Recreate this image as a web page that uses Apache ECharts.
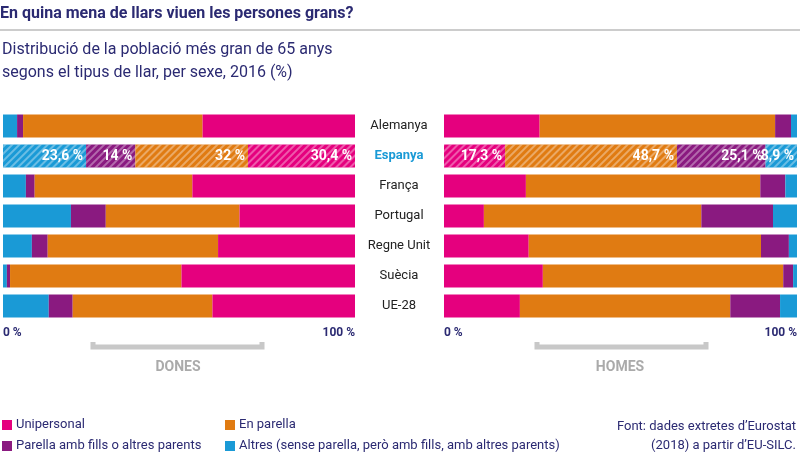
<!DOCTYPE html>
<html><head><meta charset="utf-8">
<script src="https://cdn.jsdelivr.net/npm/echarts@6/dist/echarts.min.js"></script>
<style>body{margin:0}#c{width:800px;height:467px}</style></head>
<body><div id="c"></div>
<script>
const categories=['Alemanya','Espanya','França','Portugal','Regne Unit','Suècia','UE-28'];
const seriesNames=['Unipersonal','En parella','Parella amb fills o altres parents','Altres (sense parella, però amb fills, amb altres parents)'];
// Women (left), order: Altres, Parella amb fills, En parella, Unipersonal
const womenAltres=[4,23.6,6.5,19.3,8.2,1.1,13];
const womenFills=[1.7,14,2.5,9.9,4.5,0.9,6.8];
const womenParella=[51,32,44.8,38,48.4,48.7,39.7];
const womenUni=[43.3,30.4,46.2,32.8,38.9,49.3,40.5];
// Men (right), order: Unipersonal, En parella, Parella amb fills, Altres
const menUni=[27.1,17.3,23.2,11.3,24,28,21.5];
const menParella=[66.7,48.7,66.4,61.6,65.8,68.1,59.6];
const menFills=[4.5,25.1,7.1,20.3,7.9,2.8,14.1];
const menAltres=[1.7,8.9,3.3,6.8,2.3,1.1,4.8];
const axisTicks=[0,100];

const col={uni:'#e5007e',par:'#e07b12',fil:'#8a1a80',alt:'#1a9ad6'};
const navy='#2b2a72';
const hl=1;
function mk(name,data,color,xi){
  return {type:'bar',stack:'s'+xi,xAxisIndex:xi,yAxisIndex:xi,barWidth:23,name:name,
    itemStyle:{color:color},
    data:data.map((v,i)=>i===hl?{value:v,itemStyle:{color:color,decal:{symbol:'rect',symbolSize:1,dashArrayX:[1,0],dashArrayY:[2,3],rotation:-Math.PI/4,color:'rgba(255,255,255,0.35)'}},
      label:{show:true,position:'insideRight',distance:3,color:'#fff',fontWeight:'bold',fontSize:14,fontFamily:'Roboto',formatter:p=>String(p.value).replace('.',',')+' %'}}:v)};
}
const xa=(i)=>({gridIndex:i,min:0,max:100,interval:100,axisLine:{show:false},axisTick:{show:false},splitLine:{show:false},
  axisLabel:{color:navy,fontSize:12,fontWeight:'bold',fontFamily:'Roboto',formatter:v=>axisTicks.includes(v)?v+' %':'',alignMinLabel:'left',alignMaxLabel:'right',margin:6}});
const ya=i=>({gridIndex:i,type:'category',data:categories,inverse:true,axisLine:{show:false},axisTick:{show:false},axisLabel:{show:false}});
const chart=echarts.init(document.getElementById('c'));
const g=[];
const leg=[[col.uni,seriesNames[0],2,425],[col.par,seriesNames[1],225,425],[col.fil,seriesNames[2],2,446],[col.alt,seriesNames[3],225,446]];
leg.forEach(l=>{g.push({type:'rect',shape:{x:l[2],y:l[3]-5,width:10,height:10},style:{fill:l[0]}});
  g.push({type:'text',x:l[2]+14,y:l[3],style:{text:l[1],fill:navy,font:'13px Roboto',textVerticalAlign:'middle'}});});
categories.forEach((c,i)=>g.push({type:'text',x:399,y:126+i*30,style:{text:c,fill:i===hl?'#1a9ad6':'#222',font:(i===hl?'bold ':'')+'13px Roboto',textAlign:'center',textVerticalAlign:'middle'}}));
[[93,262,'DONES',178],[537,706,'HOMES',620]].forEach(b=>{
  g.push({type:'polyline',shape:{points:[[b[0],342],[b[0],347],[b[1],347],[b[1],342]]},style:{stroke:'#c8c8c8',lineWidth:5,fill:null}});
  g.push({type:'text',x:b[3],y:367,style:{text:b[2],fill:'#aaaaaa',font:'bold 14px Roboto',textAlign:'center',textVerticalAlign:'middle'}});
});
g.push({type:'text',x:0,y:14,style:{text:'En quina mena de llars viuen les persones grans?',fill:navy,font:'bold 16px Roboto',textVerticalAlign:'middle'}});
g.push({type:'line',shape:{x1:0,y1:30,x2:800,y2:30},style:{stroke:'#999',lineWidth:1}});
g.push({type:'text',x:2,y:50,style:{text:'Distribució de la població més gran de 65 anys',fill:navy,font:'16px Roboto',textVerticalAlign:'middle'}});
g.push({type:'text',x:2,y:73,style:{text:'segons el tipus de llar, per sexe, 2016 (%)',fill:navy,font:'16px Roboto',textVerticalAlign:'middle'}});
g.push({type:'text',x:796,y:427,style:{text:'Font: dades extretes d’Eurostat',fill:navy,font:'13px Roboto',textAlign:'right',textVerticalAlign:'middle'}});
g.push({type:'text',x:796,y:446,style:{text:'(2018) a partir d’EU-SILC.',fill:navy,font:'13px Roboto',textAlign:'right',textVerticalAlign:'middle'}});
chart.setOption({animation:false,
  grid:[{left:0,width:355,top:111,height:210},{left:444,width:354,top:111,height:210}],
  xAxis:[xa(0),xa(1)],yAxis:[ya(0),ya(1)],
  series:[mk(seriesNames[3],womenAltres,col.alt,0),mk(seriesNames[2],womenFills,col.fil,0),mk(seriesNames[1],womenParella,col.par,0),mk(seriesNames[0],womenUni,col.uni,0),
    mk(seriesNames[0],menUni,col.uni,1),mk(seriesNames[1],menParella,col.par,1),mk(seriesNames[2],menFills,col.fil,1),mk(seriesNames[3],menAltres,col.alt,1)],
  graphic:g});
</script></body></html>
